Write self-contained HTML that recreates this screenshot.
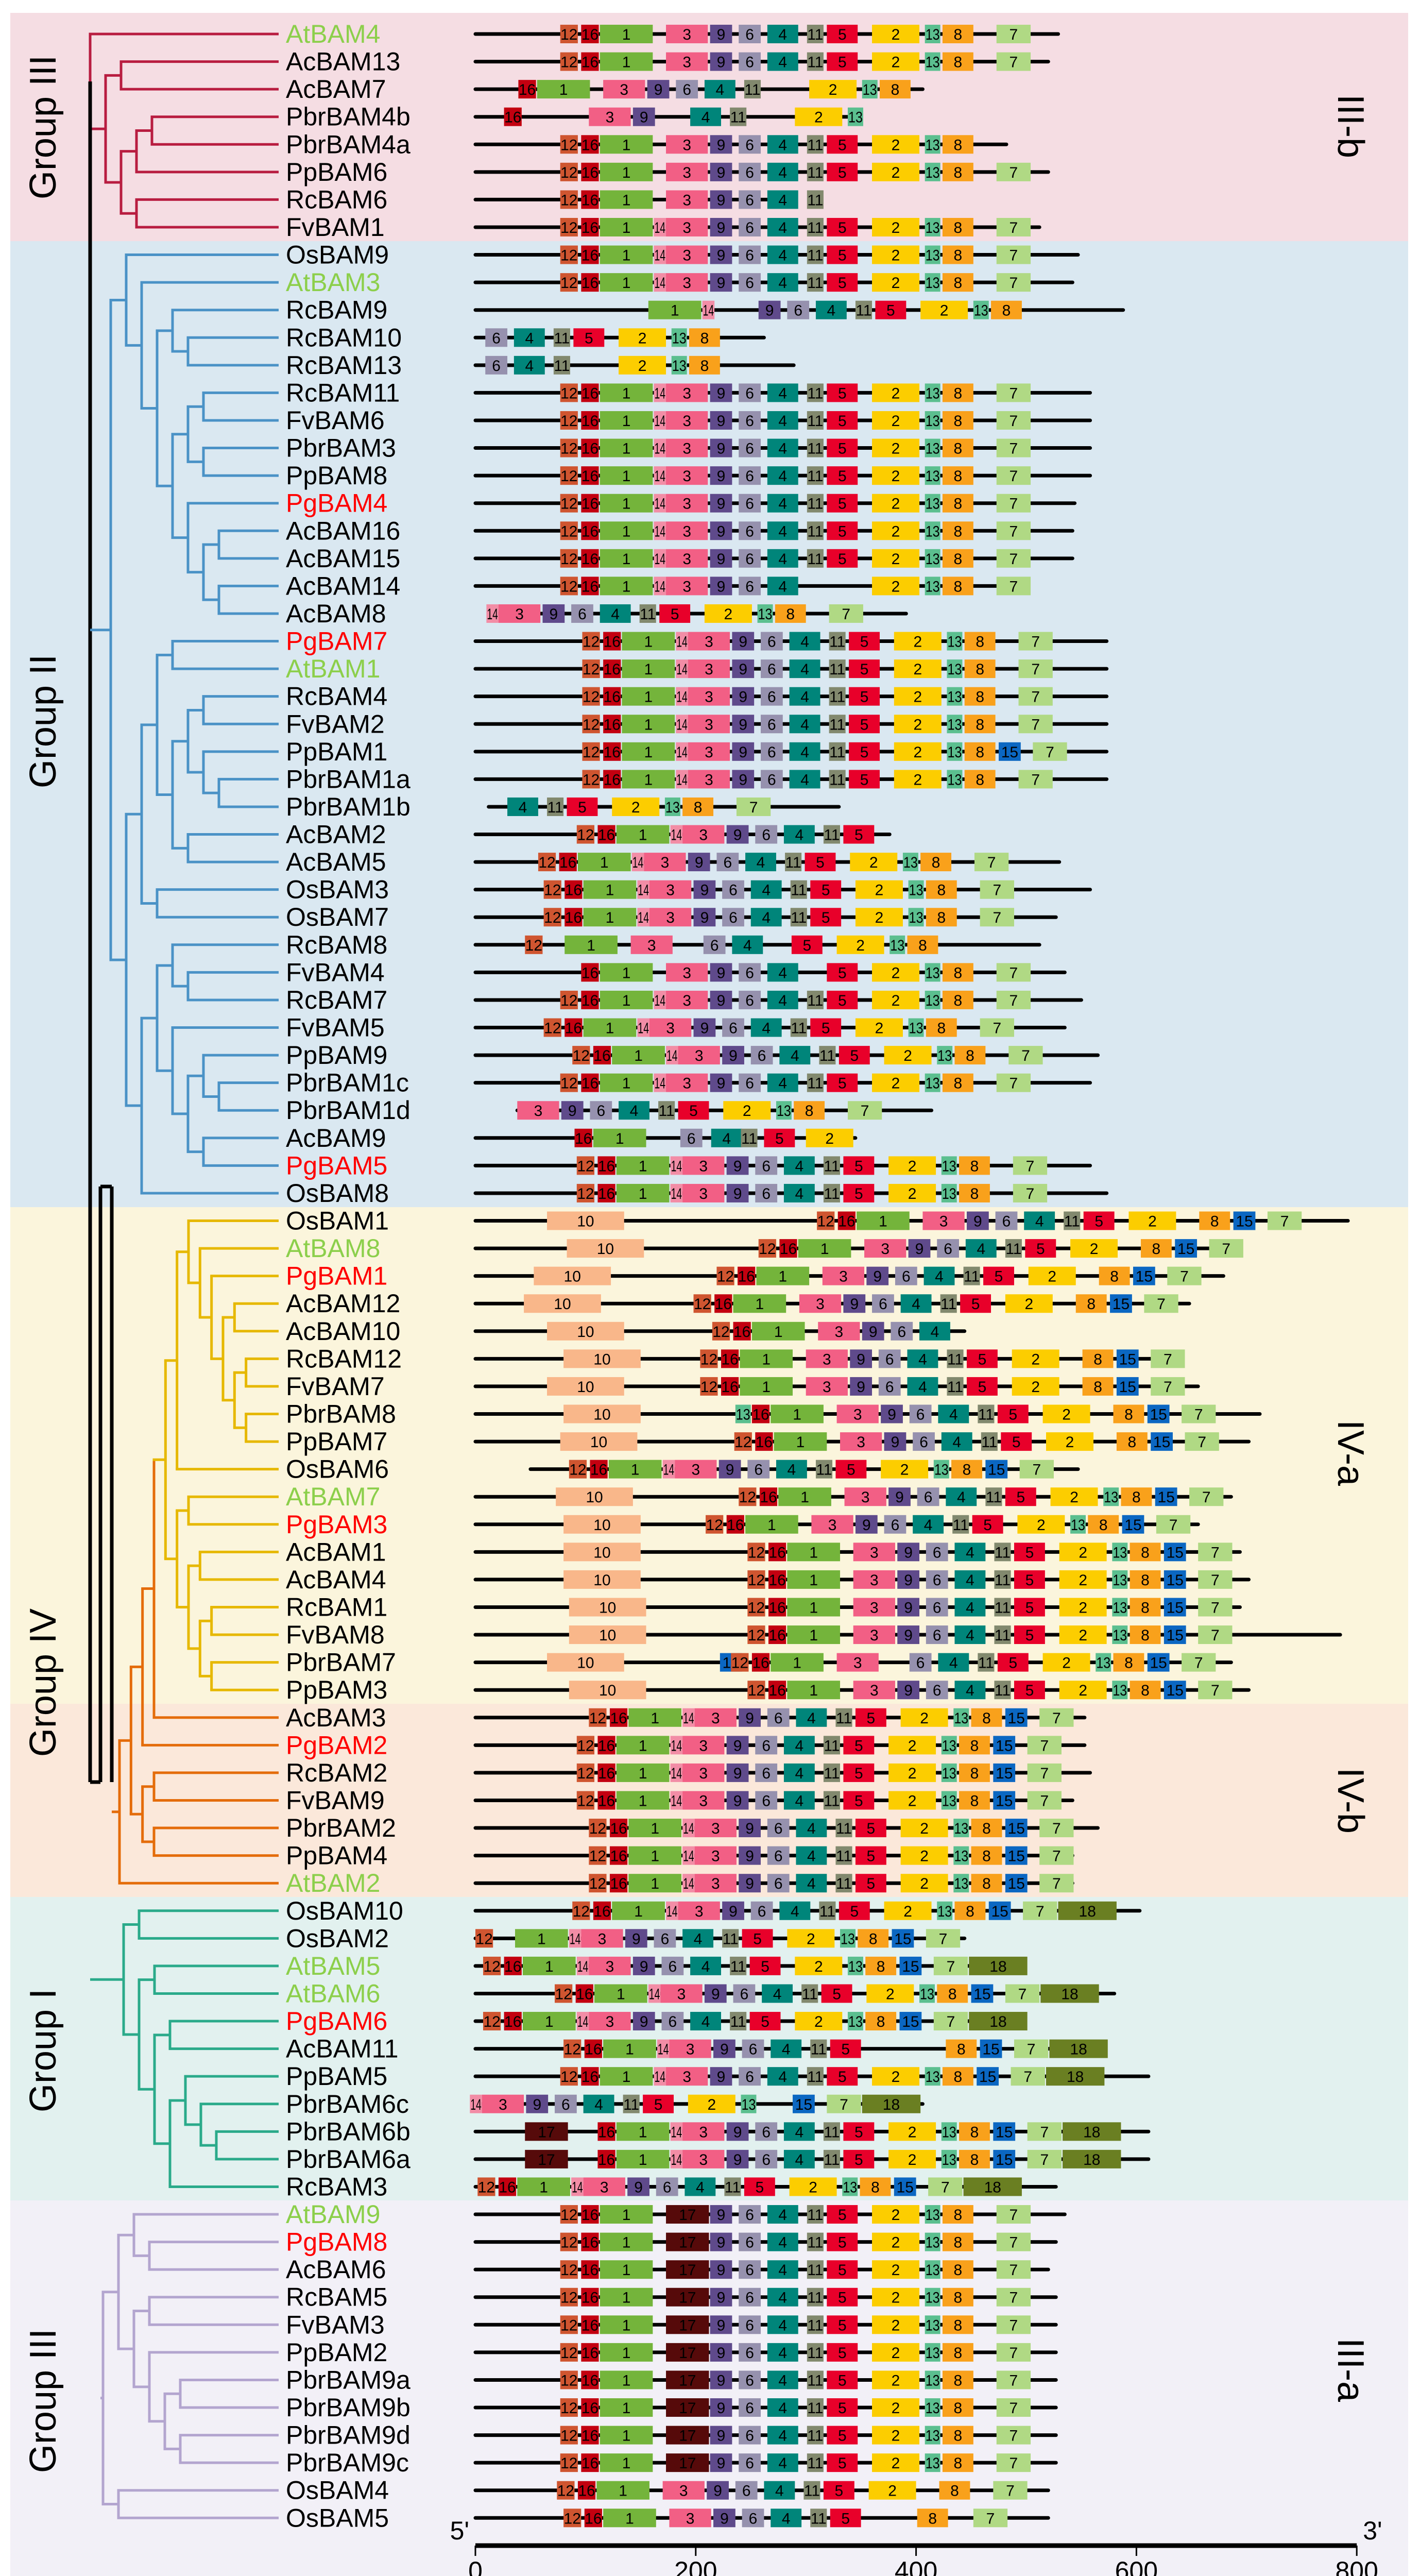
<!DOCTYPE html>
<html><head><meta charset="utf-8"><title>BAM gene tree and motifs</title>
<style>
html,body{margin:0;padding:0;background:#fff;width:2757px;height:5070px;overflow:hidden;}
svg{display:block;font-family:"Liberation Sans",Arial,sans-serif;overflow:hidden;}
</style></head>
<body>
<svg id="fig" width="2757" height="5070" viewBox="0 0 2757 5070" xmlns="http://www.w3.org/2000/svg">
  <g id="bands">
    <rect x="20" y="25" width="2714" height="443" fill="#f5dde3"/>
    <rect x="20" y="468" width="2714" height="1875" fill="#dae8f1"/>
    <rect x="20" y="2343" width="2714" height="964" fill="#fbf5dc"/>
    <rect x="20" y="3307" width="2714" height="375" fill="#fbe8da"/>
    <rect x="20" y="3682" width="2714" height="589" fill="#e2f1ef"/>
    <rect x="20" y="4271" width="2714" height="774" fill="#f2f0f7"/>
  </g>
  <g id="grouplabels" font-size="72" fill="#000">
    <text transform="translate(108,247) rotate(-90)" text-anchor="middle">Group III</text>
    <text transform="translate(108,1400) rotate(-90)" text-anchor="middle">Group II</text>
    <text transform="translate(108,3266) rotate(-90)" text-anchor="middle">Group IV</text>
    <text transform="translate(108,3980) rotate(-90)" text-anchor="middle">Group I</text>
    <text transform="translate(108,4660) rotate(-90)" text-anchor="middle">Group III</text>
    <text transform="translate(2598,245) rotate(90)" text-anchor="middle">III-b</text>
    <text transform="translate(2598,2820) rotate(90)" text-anchor="middle">IV-a</text>
    <text transform="translate(2598,3495) rotate(90)" text-anchor="middle">IV-b</text>
    <text transform="translate(2598,4600) rotate(90)" text-anchor="middle">III-a</text>
  </g>
  <g id="tree"></g>
  <g id="rows"></g>
  <g id="axis"></g>
</svg>
<script>
const names=["AtBAM4","AcBAM13","AcBAM7","PbrBAM4b","PbrBAM4a","PpBAM6","RcBAM6","FvBAM1",
"OsBAM9","AtBAM3","RcBAM9","RcBAM10","RcBAM13","RcBAM11","FvBAM6","PbrBAM3","PpBAM8","PgBAM4","AcBAM16","AcBAM15","AcBAM14","AcBAM8","PgBAM7","AtBAM1","RcBAM4","FvBAM2","PpBAM1","PbrBAM1a","PbrBAM1b","AcBAM2","AcBAM5","OsBAM3","OsBAM7","RcBAM8","FvBAM4","RcBAM7","FvBAM5","PpBAM9","PbrBAM1c","PbrBAM1d","AcBAM9","PgBAM5","OsBAM8",
"OsBAM1","AtBAM8","PgBAM1","AcBAM12","AcBAM10","RcBAM12","FvBAM7","PbrBAM8","PpBAM7","OsBAM6","AtBAM7","PgBAM3","AcBAM1","AcBAM4","RcBAM1","FvBAM8","PbrBAM7","PpBAM3",
"AcBAM3","PgBAM2","RcBAM2","FvBAM9","PbrBAM2","PpBAM4","AtBAM2",
"OsBAM10","OsBAM2","AtBAM5","AtBAM6","PgBAM6","AcBAM11","PpBAM5","PbrBAM6c","PbrBAM6b","PbrBAM6a","RcBAM3",
"AtBAM9","PgBAM8","AcBAM6","RcBAM5","FvBAM3","PpBAM2","PbrBAM9a","PbrBAM9b","PbrBAM9d","PbrBAM9c","OsBAM4","OsBAM5"];
const lineStart=[0,0,0,0,0,0,0,0,
0,0,0,0,0,0,0,0,0,0,0,0,0,15,0,0,0,0,0,0,12,0,0,0,0,0,0,0,0,0,0,38,0,0,0,
0,0,0,0,0,0,0,0,0,50,0,0,0,0,0,0,0,0,
0,0,0,0,0,0,0,
0,0,0,0,0,0,0,0,0,0,0,
0,0,0,0,0,0,0,0,0,0,0,0];
const lineEnd=[529,520,406,338,482,520,285,512,
547,542,588,262,289,558,558,558,558,544,542,542,497,391,573,573,573,573,573,573,330,376,530,558,527,512,535,550,535,565,558,414,345,558,573,
792,694,679,648,444,626,656,712,702,547,686,656,694,702,694,785,686,702,
553,553,558,542,565,542,542,
603,444,497,580,497,535,611,406,611,611,527,
535,527,520,527,527,527,527,527,527,527,520,520];
const shift=[0,0,-57,-70,0,0,0,0,
0,0,44,-230,-230,0,0,0,0,0,0,0,0,-152,20,20,20,20,20,20,-236,15,-20,-15,-15,-32,0,0,-15,11,0,-135,-6,15,15,
233,180,142,121,138,127,127,155,158,8,162,132,170,170,170,170,155,170,
26,15,15,15,26,26,26,
11,-77,-70,-5,-70,3,0,-167,15,15,-75,
0,0,0,0,0,0,0,0,0,0,-3,3];
const S2="12 16 1 14 3 9 6 4 11 5 2 13 8 7";
const S3="12 16 1 3 9 6 4 11 5 2 13 8 7";
const S15="12 16 1 14 3 9 6 4 11 5 2 13 8 15 7";
const S18="12 16 1 14 3 9 6 4 11 5 2 13 8 15 7 18";
const SA="12 16 1 17 9 6 4 11 5 2 13 8 7";
const SIV="12 16 1 3 9 6 4 11 5 2 8 15 7";
const SIV13="12 16 1 3 9 6 4 11 5 2 13 8 15 7";
const motifs=[S3,S3,"16 1 3 9 6 4 11 2 13 8","16 3 9 4 11 2 13","12 16 1 3 9 6 4 11 5 2 13 8",S3,"12 16 1 3 9 6 4 11",S2,
S2,S2,"1 14 9 6 4 11 5 2 13 8","6 4 11 5 2 13 8","6 4 11 2 13 8",S2,S2,S2,S2,S2,S2,S2,"12 16 1 14 3 9 6 4 2 13 8 7","14 3 9 6 4 11 5 2 13 8 7",S2,S2,S2,S2,S15,S2,"4 11 5 2 13 8 7","12 16 1 14 3 9 6 4 11 5",S2,S2,S2,"12 1 3 6 4 5 2 13 8","16 1 3 9 6 4 5 2 13 8 7",S2,S2,S2,S2,"3 9 6 4 11 5 2 13 8 7","16 1 6@186 4@214 11@241 5@262 2@300",S2,S2,
SIV,SIV,SIV,SIV,"12 16 1 3 9 6 4",SIV,SIV,"13@236 16 1 3 9 6 4 11 5 2 8 15 7",SIV,S15,SIV13,SIV13,SIV13,SIV13,SIV13,SIV13,"15@222 12 16 1 3 6 4 11 5 2 13 8 15 7",SIV13,
S15,S15,S15,S15,S15,S15,S15,
S18,"12 1 14 3 9 6 4 11 5 2 13 8 15 7",S18,S18,S18,"12 16 1 14 3 9 6 4 11 5 8 15 7 18",S18,"14 3 9 6 4 11 5 2 13 15 7 18","17@45 16 1 14 3 9 6 4 11 5 2 13 8 15 7 18","17@45 16 1 14 3 9 6 4 11 5 2 13 8 15 7 18",S18,
SA,SA,SA,SA,SA,SA,SA,SA,SA,SA,"12 16 1 3 9 6 4 11 5 2 8 7","12 16 1 3 9 6 4 11 5 8@401 7@452"];
const tenStart=[null,null,null,null,null,null,null,null,
null,null,null,null,null,null,null,null,null,null,null,null,null,null,null,null,null,null,null,null,null,null,null,null,null,null,null,null,null,null,null,null,null,null,null,
65,83,53,44,65,80,65,80,77,null,73,80,80,80,85,85,65,85,
null,null,null,null,null,null,null,
null,null,null,null,null,null,null,null,null,null,null,
null,null,null,null,null,null,null,null,null,null,null,null];
const axisTicks=[0,200,400,600,800];

const NS="http://www.w3.org/2000/svg";
const X0=923, PXU=2.139, Y0=66, PITCH=53.57, LEAFX=541;
function xs(u){return X0+u*PXU;}
function ys(i){return Y0+i*PITCH;}
const T={"12":77,"16":96,"1":113,"14":162,"3":173,"17":173,"9":213,"6":239,"4":265,"11":301,"5":319,"2":360,"13":408,"8":424,"15":455,"7":473,"18":505};
const W={"12":16,"16":16,"1":48,"14":11,"3":38,"17":39,"9":20,"6":20,"4":28,"11":15,"5":28,"2":43,"13":14,"8":28,"15":20,"7":31,"18":53};
const C={"12":"#cf5530","16":"#c30010","1":"#74b43b","14":"#f28da6","3":"#f25f85","17":"#560a0a","9":"#5f4a8b","6":"#9691ae","4":"#00857a","11":"#82896e","5":"#e8002a","2":"#fccd00","13":"#5bbf8f","8":"#f9a11b","15":"#0b67c2","7":"#b0d984","18":"#6a7f22","10":"#f9b78a"};
function mk(tag,attrs,parent){const e=document.createElementNS(NS,tag);for(const k in attrs)e.setAttribute(k,attrs[k]);parent.appendChild(e);return e;}

const rowsG=document.getElementById('rows');
for(let i=0;i<names.length;i++){
  const y=ys(i);
  const g=mk('g',{},rowsG);
  
  
  const nm=names[i];
  const col=nm.startsWith('At')?'#8ccf4b':(nm.startsWith('Pg')?'#ff0000':'#000');
  const t=mk('text',{x:555,y:y+17,'font-size':50,fill:col},g);
  
  
  t.textContent=nm;
  const ln=mk('line',{x1:xs(lineStart[i]),x2:xs(lineEnd[i]),y1:y,y2:y,stroke:'#000','stroke-width':7,'stroke-linecap':'round'},g);
  
  
  const toks=motifs[i].split(' ');
  const has15=toks.some(s=>s.split('@')[0]==='15' && s.indexOf('@')<0);
  const boxes=[];
  if(tenStart[i]!==null){boxes.push(['10',tenStart[i],70]);}
  for(const tk of toks){
    const p=tk.split('@');const id=p[0];
    let pos;
    if(p.length>1){pos=+p[1];}else{pos=T[id]+shift[i]+((has15&&(id==='7'||id==='18'))?13:0);}
    boxes.push([id,pos,W[id]]);
  }
  for(const b of boxes){
    const bx=xs(b[1]), bw=b[2]*PXU;
    const r=mk('rect',{x:bx,y:y-18,width:bw,height:36,fill:C[b[0]]},g);
    
    
    const tt=mk('text',{x:bx+bw/2,y:y+11,'font-size':30,'text-anchor':'middle',fill:'#000'},g);
    if(bw<30)tt.setAttribute('textLength',Math.max(bw-2,10)),tt.setAttribute('lengthAdjust','spacingAndGlyphs');
    
    
    tt.textContent=b[0];
  }
}

// axis
const ax=document.getElementById('axis');
const AY=4941;
const al=mk('line',{x1:xs(0),x2:xs(800),y1:AY,y2:AY,stroke:'#000','stroke-width':9},ax);


for(const v of axisTicks){
  const tl=mk('line',{x1:xs(v),x2:xs(v),y1:AY,y2:AY+20,stroke:'#000','stroke-width':3},ax);
  
  
  const tx=mk('text',{x:xs(v),y:AY+66,'font-size':50,'text-anchor':'middle'},ax);
  
  
  tx.textContent=String(v);
}
const t5=mk('text',{x:xs(0)-12,y:AY-12,'font-size':50,'text-anchor':'end'},ax);


t5.textContent="5'";
const t3=mk('text',{x:xs(800)+12,y:AY-12,'font-size':50},ax);


t3.textContent="3'";

// tree
const treeG=document.getElementById('tree');
function parse(s){let i=0;function node(){if(s[i]==='('){i++;const ch=[];while(i<s.length){ch.push(node());if(s[i]===','){i++;continue;}if(s[i]===')'){i++;break;}}return {ch:ch};}let n='';while(i<s.length&&/\d/.test(s[i]))n+=s[i++];return {leaf:+n};}return node();}
const tIIIb="(0,((1,2),(((3,4),5),(6,7))))";
const tII="("+"(0,(1,((2,(3,4)),(((5,6),(7,8)),(9,((10,11),(12,13)))))))"+","+"((((14,15),(((16,17),(18,(19,20))),(21,22))),(23,24)),(((25,(26,27)),(28,((29,(30,31)),(32,33)))),34))"+")";
const inner1="(0,(1,(2,((3,4),((5,6),(7,8))))))";
const a1="("+inner1+",9)";
const a2="((10,11),((12,13),((14,15),(16,17))))";
const tIVa="("+a1+","+a2+")";
const tIV="(((("+tIVa+",18),19),((20,21),(22,23))),24)";
const tI="((0,1),((2,3),((4,5),((6,(7,(8,9))),10))))";
const tIIIa="(((0,(1,2)),((3,4),(5,((6,7),(8,9))))),(10,11))";
const groups=[
 {t:tIIIb,off:0,rx:175,c:'#b81c40',alt:null,cut:99},
 {t:tII,off:8,rx:215,c:'#4a92c6',alt:null,cut:99},
 {t:tIV,off:43,rx:232,c:'#e46c0a',alt:'#e6b800',cut:18},
 {t:tI,off:68,rx:240,c:'#2aaa8a',alt:null,cut:99},
 {t:tIIIa,off:79,rx:200,c:'#b3a5cf',alt:null,cut:99}];
function depth(n){return n.ch?1+Math.max(...n.ch.map(depth)):0;}
function leaves(n){return n.ch?n.ch.flatMap(leaves):[n.leaf];}
const roots=[];
for(const gr of groups){
  const root=parse(gr.t);
  const md=depth(root);
  const step=Math.min(30,(500-gr.rx)/md);
  function lay(n,d){
    if(!n.ch){n.y=ys(gr.off+n.leaf);n.x=LEAFX;return;}
    n.x=gr.rx+d*step;
    n.ch.forEach(c=>lay(c,d+1));
    n.y=(n.ch[0].y+n.ch[n.ch.length-1].y)/2;
  }
  lay(root,0);
  function colr(n){if(gr.alt&&leaves(n).every(l=>l<gr.cut))return gr.alt;return gr.c;}
  function draw(n){
    if(!n.ch)return;
    const cc=colr(n);
    const v=mk('line',{x1:n.x,x2:n.x,y1:n.ch[0].y,y2:n.ch[n.ch.length-1].y,stroke:cc,'stroke-width':5},treeG);
    
    
    for(const c of n.ch){
      const h=mk('line',{x1:n.x-2.5,x2:c.x,y1:c.y,y2:c.y,stroke:colr(c),'stroke-width':5},treeG);
      
      
      draw(c);
    }
  }
  draw(root);
  roots.push(root);
}
// backbone
const bb=[[175,roots[0].y,175,3459],[175,3459,195,3459],[195,2303,195,3459],[217,2303,217,3459],[195,2303,217,2303]];
for(const s of bb){
  const l=mk('line',{x1:s[0],y1:s[1],x2:s[2],y2:s[3],stroke:'#000','stroke-width':7},treeG);
  
  
}
for(let k=1;k<roots.length;k++){
  const r=roots[k];
  const fx=(k===2)?217:(k===4?195:175);
  const l=mk('line',{x1:fx,y1:r.y,x2:r.x,y2:r.y,stroke:groups[k].c,'stroke-width':5},treeG);
  
  
}
</script>
</body></html>
